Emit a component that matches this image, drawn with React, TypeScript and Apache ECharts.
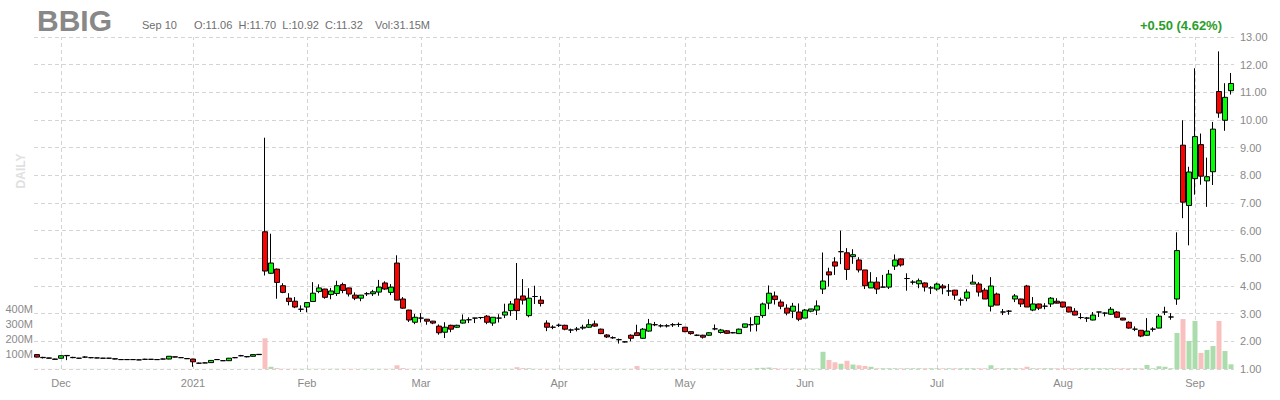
import React, { useEffect, useRef } from 'react';
import * as echarts from 'echarts';

const ticker = 'BBIG';
const timeframe = 'DAILY';

// trading calendar (categories)
const firstDay = '2020-11-24';
const lastDay = '2021-09-10';
const holidays = ['2020-11-26', '2020-12-25', '2021-01-01', '2021-01-18', '2021-02-15', '2021-04-02', '2021-05-31', '2021-07-05', '2021-09-06'];
const monthLabels: Record<string, string> = {
  '2020-12': 'Dec', '2021-01': '2021', '2021-02': 'Feb', '2021-03': 'Mar', '2021-04': 'Apr',
  '2021-05': 'May', '2021-06': 'Jun', '2021-07': 'Jul', '2021-08': 'Aug', '2021-09': 'Sep',
};

const opens = [
  1.52, 1.42, 1.40, 1.36, 1.39, 1.49, 1.42, 1.39, 1.43, 1.41,
  1.40, 1.39, 1.39, 1.37, 1.34, 1.34, 1.34, 1.33, 1.35, 1.35,
  1.34, 1.36, 1.36, 1.44, 1.41, 1.38, 1.36, 1.21, 1.22, 1.23,
  1.34, 1.30, 1.30, 1.41, 1.48, 1.45, 1.46, 1.52, 5.96, 4.46,
  4.61, 4.01, 3.56, 3.45, 3.16, 3.24, 3.44, 3.80, 3.89, 3.69,
  3.73, 4.05, 3.93, 3.67, 3.56, 3.72, 3.72, 3.78, 4.11, 3.77,
  4.83, 3.53, 3.13, 2.69, 2.84, 2.80, 2.73, 2.55, 2.33, 2.58,
  2.51, 2.66, 2.78, 2.84, 2.86, 2.91, 2.66, 2.84, 2.95, 3.11,
  3.53, 3.64, 2.93, 3.62, 3.49, 2.66, 2.51, 2.58, 2.58, 2.41,
  2.44, 2.48, 2.51, 2.63, 2.44, 2.23, 2.13, 2.06, 1.98, 2.22,
  2.31, 2.11, 2.37, 2.60, 2.56, 2.56, 2.60, 2.61, 2.51, 2.35,
  2.22, 2.22, 2.22, 2.45, 2.32, 2.38, 2.31, 2.28, 2.51, 2.60,
  2.62, 2.93, 3.38, 3.64, 3.42, 3.20, 3.09, 3.06, 2.84, 3.09,
  3.13, 3.89, 4.51, 4.87, 5.24, 5.20, 5.06, 4.94, 4.58, 3.93,
  4.14, 3.96, 3.96, 4.72, 4.98, 4.27, 4.14, 4.08, 4.11, 3.93,
  3.89, 4.00, 3.82, 3.85, 3.49, 3.56, 4.07, 4.07, 3.85, 3.27,
  3.71, 3.06, 3.09, 3.53, 3.53, 4.00, 3.13, 3.35, 3.27, 3.35,
  3.45, 3.42, 3.24, 3.09, 2.86, 2.84, 2.77, 3.06, 3.02, 2.98,
  3.06, 2.84, 2.69, 2.44, 2.40, 2.22, 2.44, 2.48, 3.06, 2.88,
  3.53, 9.09, 6.91, 7.88, 9.11, 7.80, 8.13, 11.03, 9.99, 11.06,
];
const highs = [
  1.53, 1.44, 1.41, 1.37, 1.49, 1.50, 1.44, 1.40, 1.46, 1.42,
  1.41, 1.40, 1.40, 1.38, 1.35, 1.35, 1.35, 1.34, 1.37, 1.36,
  1.35, 1.38, 1.47, 1.45, 1.42, 1.39, 1.37, 1.23, 1.24, 1.32,
  1.36, 1.31, 1.40, 1.43, 1.51, 1.46, 1.53, 1.54, 9.36, 5.89,
  4.63, 4.10, 3.74, 3.60, 3.30, 3.40, 4.14, 4.06, 3.90, 3.93,
  4.19, 4.12, 3.94, 3.77, 3.67, 3.78, 3.86, 4.22, 4.17, 4.07,
  5.11, 3.60, 3.14, 2.99, 3.02, 2.81, 2.74, 2.61, 2.69, 2.60,
  2.60, 2.97, 2.87, 2.85, 2.88, 2.95, 2.87, 2.98, 3.36, 3.46,
  4.83, 4.25, 3.92, 4.01, 3.64, 2.76, 2.58, 2.64, 2.60, 2.46,
  2.52, 2.60, 2.80, 2.75, 2.46, 2.26, 2.18, 2.10, 2.00, 2.25,
  2.60, 2.48, 2.81, 2.70, 2.62, 2.62, 2.66, 2.68, 2.52, 2.36,
  2.25, 2.24, 2.33, 2.61, 2.45, 2.40, 2.34, 2.46, 2.63, 2.87,
  2.92, 3.40, 4.02, 3.80, 3.51, 3.34, 3.39, 3.37, 3.17, 3.17,
  3.48, 5.21, 4.66, 5.04, 6.00, 5.37, 5.33, 5.04, 4.58, 4.50,
  4.32, 4.40, 4.58, 5.14, 5.00, 4.46, 4.21, 4.27, 4.13, 4.00,
  4.12, 4.07, 4.07, 3.86, 3.58, 3.88, 4.41, 4.14, 3.93, 4.32,
  3.76, 3.17, 3.13, 3.71, 3.54, 4.04, 3.60, 3.36, 3.38, 3.60,
  3.56, 3.43, 3.25, 3.20, 3.02, 2.88, 3.06, 3.07, 3.05, 3.24,
  3.09, 2.85, 2.72, 2.54, 2.41, 2.84, 2.51, 2.99, 3.25, 3.02,
  5.94, 9.99, 8.31, 11.87, 9.51, 8.64, 9.93, 12.48, 11.33, 11.70,
];
const lows = [
  1.42, 1.38, 1.38, 1.34, 1.38, 1.32, 1.39, 1.38, 1.41, 1.39,
  1.39, 1.38, 1.38, 1.35, 1.33, 1.33, 1.33, 1.32, 1.34, 1.34,
  1.33, 1.35, 1.35, 1.42, 1.40, 1.36, 1.08, 1.19, 1.21, 1.22,
  1.33, 1.29, 1.29, 1.39, 1.46, 1.42, 1.45, 1.51, 4.38, 4.44,
  3.54, 3.74, 3.30, 3.20, 3.06, 3.05, 3.44, 3.74, 3.54, 3.52,
  3.64, 3.74, 3.62, 3.49, 3.45, 3.64, 3.64, 3.65, 3.86, 3.67,
  3.49, 3.18, 2.70, 2.62, 2.68, 2.60, 2.62, 2.24, 2.12, 2.33,
  2.48, 2.64, 2.66, 2.66, 2.80, 2.62, 2.56, 2.68, 2.84, 2.92,
  2.77, 3.33, 2.87, 3.35, 3.26, 2.37, 2.44, 2.52, 2.40, 2.30,
  2.36, 2.42, 2.49, 2.52, 2.26, 2.12, 2.09, 1.92, 1.96, 2.00,
  2.20, 2.09, 2.35, 2.55, 2.50, 2.50, 2.52, 2.52, 2.33, 2.24,
  2.19, 2.10, 2.20, 2.40, 2.28, 2.27, 2.29, 2.27, 2.49, 2.35,
  2.36, 2.85, 3.16, 3.33, 3.16, 2.94, 2.84, 2.73, 2.84, 3.05,
  2.95, 3.71, 3.98, 4.40, 4.79, 4.22, 4.80, 4.49, 3.89, 3.93,
  3.71, 3.96, 3.89, 4.58, 4.70, 3.83, 4.05, 3.92, 3.80, 3.71,
  3.83, 3.70, 3.64, 3.50, 3.29, 3.45, 4.07, 3.62, 3.53, 3.08,
  3.31, 2.95, 2.96, 3.42, 3.24, 3.24, 3.09, 3.13, 3.16, 3.24,
  3.42, 3.22, 3.05, 2.94, 2.80, 2.70, 2.76, 2.88, 2.90, 2.96,
  2.84, 2.76, 2.46, 2.37, 2.15, 2.20, 2.35, 2.47, 2.95, 2.78,
  3.32, 6.45, 5.47, 7.30, 7.66, 6.86, 7.65, 10.08, 9.61, 10.92,
];
const closes = [
  1.43, 1.41, 1.39, 1.35, 1.48, 1.48, 1.41, 1.39, 1.43, 1.41,
  1.40, 1.39, 1.39, 1.36, 1.34, 1.34, 1.34, 1.33, 1.35, 1.35,
  1.34, 1.36, 1.46, 1.43, 1.41, 1.37, 1.26, 1.21, 1.22, 1.31,
  1.34, 1.30, 1.39, 1.41, 1.48, 1.44, 1.52, 1.53, 4.54, 4.83,
  4.13, 3.77, 3.44, 3.24, 3.16, 3.40, 3.74, 3.93, 3.59, 3.82,
  4.01, 3.84, 3.71, 3.56, 3.67, 3.72, 3.79, 3.96, 3.89, 3.96,
  3.49, 3.20, 2.77, 2.87, 2.84, 2.73, 2.66, 2.31, 2.51, 2.44,
  2.58, 2.77, 2.78, 2.84, 2.86, 2.69, 2.87, 2.84, 3.06, 3.35,
  3.11, 3.49, 3.56, 3.62, 3.37, 2.51, 2.51, 2.58, 2.44, 2.41,
  2.44, 2.51, 2.60, 2.55, 2.28, 2.16, 2.13, 2.06, 1.98, 2.11,
  2.21, 2.44, 2.63, 2.60, 2.56, 2.56, 2.60, 2.61, 2.35, 2.28,
  2.22, 2.15, 2.31, 2.45, 2.41, 2.29, 2.31, 2.44, 2.63, 2.60,
  2.90, 3.35, 3.74, 3.51, 3.27, 3.02, 3.27, 2.80, 3.13, 3.17,
  3.28, 4.18, 4.40, 4.72, 5.24, 4.60, 5.13, 4.58, 4.01, 4.14,
  3.89, 3.96, 4.43, 4.94, 4.76, 4.27, 4.14, 4.19, 3.96, 3.93,
  4.07, 3.93, 3.82, 3.67, 3.49, 3.78, 4.14, 3.78, 3.53, 4.00,
  3.31, 3.06, 3.09, 3.64, 3.35, 3.24, 3.35, 3.20, 3.27, 3.56,
  3.38, 3.24, 3.06, 2.95, 2.86, 2.84, 2.95, 3.06, 3.02, 3.16,
  2.87, 2.77, 2.48, 2.44, 2.19, 2.37, 2.44, 2.91, 3.06, 2.88,
  5.28, 7.03, 8.12, 9.40, 7.97, 7.95, 9.67, 10.25, 10.82, 11.32,
];
// volume, millions of shares
const volumes = [
  1, 1, 1, 1, 1, 1, 1, 1, 1, 1,
  1, 1, 1, 1, 1, 1, 1, 1, 1, 1,
  1, 1, 1, 1, 1, 1, 1, 1, 1, 1,
  1, 1, 1, 1, 1, 1, 1, 1, 205, 15,
  6, 2, 2, 2, 2, 2, 2, 2, 2, 2,
  2, 2, 2, 2, 2, 2, 2, 2, 2, 2,
  25, 6, 2, 2, 2, 2, 2, 2, 2, 2,
  2, 2, 2, 2, 2, 2, 2, 2, 2, 2,
  12, 6, 5, 2, 2, 2, 2, 2, 2, 2,
  2, 2, 2, 2, 2, 2, 2, 2, 2, 2,
  20, 2, 2, 2, 2, 2, 2, 2, 2, 2,
  2, 2, 2, 2, 2, 2, 2, 2, 2, 2,
  6, 8, 10, 6, 3, 3, 3, 3, 3, 3,
  3, 115, 60, 45, 35, 55, 30, 25, 20, 15,
  5, 5, 5, 5, 5, 5, 5, 5, 5, 5,
  5, 5, 5, 5, 5, 5, 5, 5, 5, 25,
  5, 5, 5, 5, 5, 15, 5, 5, 5, 5,
  5, 5, 5, 5, 5, 5, 5, 5, 5, 5,
  5, 5, 5, 5, 5, 27, 5, 18, 15, 5,
  240, 333, 187, 320, 107, 127, 153, 320, 120, 31.15,
];

const FONT = 'Arial, "Liberation Sans", sans-serif';

function buildDates(): string[] {
  const out: string[] = [];
  const d = new Date(firstDay + 'T00:00:00Z');
  const end = new Date(lastDay + 'T00:00:00Z');
  while (d <= end) {
    const s = d.toISOString().slice(0, 10);
    const wd = d.getUTCDay();
    if (wd !== 0 && wd !== 6 && !holidays.includes(s)) out.push(s);
    d.setUTCDate(d.getUTCDate() + 1);
  }
  return out;
}

export default function App() {
  const ref = useRef<HTMLDivElement>(null);
  useEffect(() => {
    document.body.style.margin = '0';
    if (!ref.current) return;
    const chart = echarts.init(ref.current, null, { renderer: 'svg' });
    const dates = buildDates();
    const monthStart = new Set<number>();
    dates.forEach((d, i) => {
      if (i > 0 && d.slice(0, 7) !== dates[i - 1].slice(0, 7)) monthStart.add(i);
    });
    const candles = dates.map((_, i) => [opens[i], closes[i], lows[i], highs[i]]);
    const vols = dates.map((_, i) => ({
      value: volumes[i],
      itemStyle: { color: closes[i] >= opens[i] ? '#abdcab' : '#f9c0c0' },
    }));
    const n = closes.length;
    const last = { o: opens[n - 1], h: highs[n - 1], l: lows[n - 1], c: closes[n - 1], v: volumes[n - 1] };
    const chg = last.c - closes[n - 2];
    const pct = (chg / closes[n - 2]) * 100;
    const lastDate = new Date(dates[n - 1] + 'T00:00:00Z');
    const mon = ['Jan', 'Feb', 'Mar', 'Apr', 'May', 'Jun', 'Jul', 'Aug', 'Sep', 'Oct', 'Nov', 'Dec'][lastDate.getUTCMonth()];
    const grey = '#8a8a8a';
    const gridColor = '#d4d4d4';

    chart.setOption({
      animation: false,
      backgroundColor: '#ffffff',
      textStyle: { fontFamily: FONT },
      grid: [
        { left: 34, right: 46, top: 37, bottom: 31 },
        { left: 34, right: 46, top: 309, bottom: 31 },
      ],
      xAxis: [
        {
          type: 'category', data: dates, gridIndex: 0, boundaryGap: true,
          axisLine: { show: false }, axisTick: { show: false }, splitLine: { show: false },
          axisLabel: {
            interval: (idx: number) => monthStart.has(idx),
            formatter: (v: string) => monthLabels[v.slice(0, 7)] || '',
            color: grey, fontSize: 11, fontFamily: FONT, margin: 8,
          },
        },
        { type: 'category', data: dates, gridIndex: 1, show: false, boundaryGap: true },
      ],
      yAxis: [
        {
          type: 'value', gridIndex: 0, position: 'right', min: 1, max: 13, interval: 1,
          axisLine: { show: false }, axisTick: { show: false },
          axisLabel: { formatter: (v: number) => v.toFixed(2), color: grey, fontSize: 11, fontFamily: FONT, margin: 6 },
          splitLine: { show: true, lineStyle: { color: gridColor, type: [4, 3], width: 1 } },
        },
        {
          type: 'value', gridIndex: 1, position: 'left', min: 0, max: 400, interval: 100,
          axisLine: { show: false }, axisTick: { show: false }, splitLine: { show: false },
          axisLabel: { showMinLabel: false, formatter: (v: number) => (v === 0 ? '' : v + 'M'), color: grey, fontSize: 11, fontFamily: FONT, margin: 1 },
        },
      ],
      graphic: [
        { type: 'text', left: 37, top: 5, style: { text: ticker, font: 'bold 30px ' + FONT, fill: '#888888' } },
        { type: 'text', x: 142, y: 25, style: { text: `${mon} ${lastDate.getUTCDate()}`, font: '11px ' + FONT, fill: '#6e6e6e', textVerticalAlign: 'middle' } },
        { type: 'text', x: 194, y: 25, style: { text: `O:${last.o.toFixed(2)}  H:${last.h.toFixed(2)}  L:${last.l.toFixed(2)}  C:${last.c.toFixed(2)}`, font: '11px ' + FONT, fill: '#6e6e6e', textVerticalAlign: 'middle' } },
        { type: 'text', x: 375, y: 25, style: { text: `Vol:${last.v.toFixed(2)}M`, font: '11px ' + FONT, fill: '#6e6e6e', textVerticalAlign: 'middle' } },
        { type: 'text', x: 1222, y: 25, style: { text: `${chg >= 0 ? '+' : ''}${chg.toFixed(2)} (${pct.toFixed(2)}%)`, font: 'bold 13px ' + FONT, fill: '#2a9d2a', textAlign: 'right', textVerticalAlign: 'middle' } },
        { type: 'text', x: 21, y: 171, rotation: Math.PI / 2, style: { text: timeframe, font: 'bold 12px ' + FONT, fill: '#e0e0e0', textAlign: 'center', textVerticalAlign: 'middle' } },
      ],
      series: [
        {
          type: 'line', xAxisIndex: 0, yAxisIndex: 0, data: [], z: 1, silent: true,
          markLine: {
            silent: true, symbol: ['none', 'none'], z: 1, label: { show: false },
            lineStyle: { color: gridColor, type: [4, 3], width: 1 },
            data: Array.from(monthStart).map((i) => ({ xAxis: dates[i] })),
          },
        },
        {
          type: 'bar', xAxisIndex: 1, yAxisIndex: 1, data: vols, barWidth: 5, z: 2, silent: true,
        },
        {
          type: 'candlestick', xAxisIndex: 0, yAxisIndex: 0, data: candles, barWidth: 5, z: 3,
          itemStyle: {
            color: '#00ff00', color0: '#ff0000', borderColor: '#000000', borderColor0: '#000000',
            borderColorDoji: '#000000', borderWidth: 1,
          },
          markLine: {
            silent: true, symbol: ['none', 'none'],
            lineStyle: { opacity: 0 },
            label: {
              show: true, position: 'end', distance: 5, formatter: () => last.c.toFixed(2),
              backgroundColor: '#ffff00', color: '#7a7a7a', fontSize: 11, fontWeight: 'bold', fontFamily: FONT, padding: [0, 1],
            },
            data: [{ yAxis: last.c }],
          },
        },
      ],
    });
    return () => chart.dispose();
  }, []);
  return <div ref={ref} style={{ width: 1280, height: 400 }} />;
}
